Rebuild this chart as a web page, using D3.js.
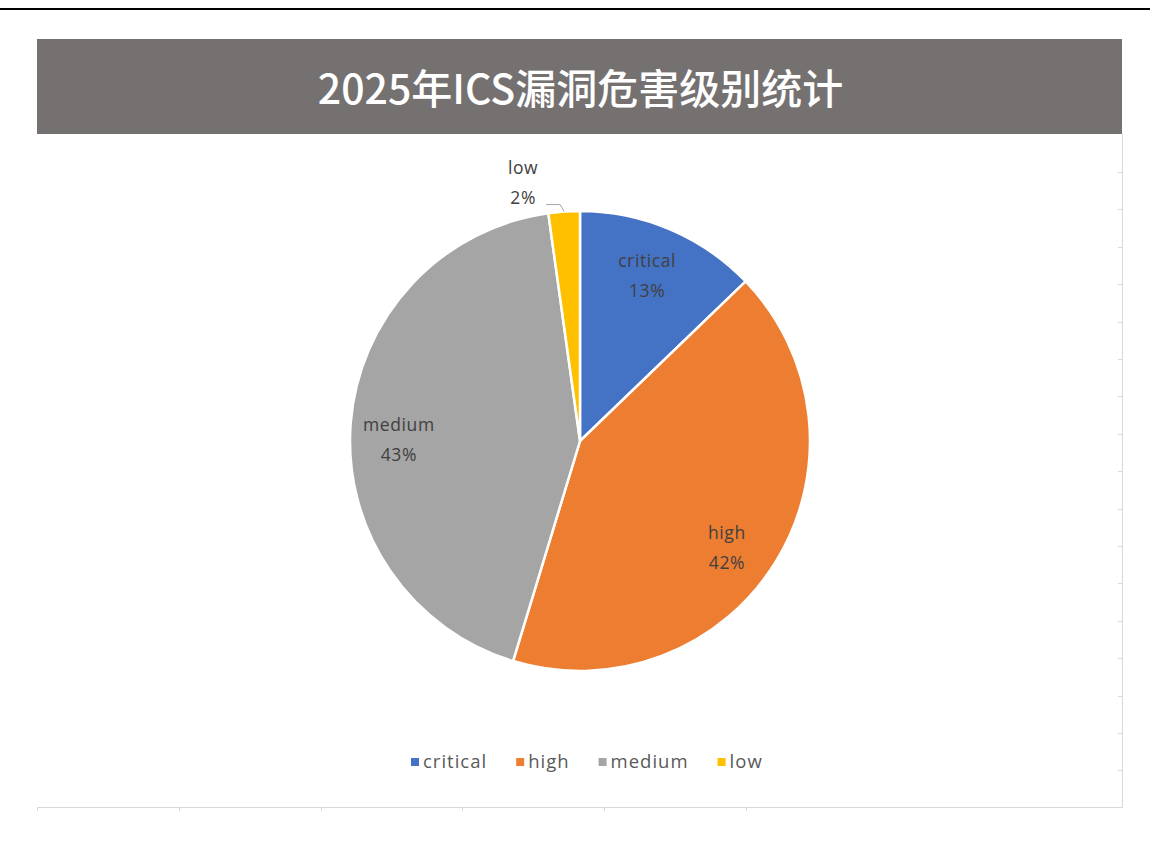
<!DOCTYPE html>
<html><head><meta charset="utf-8">
<script src="https://cdn.jsdelivr.net/npm/d3@7"></script>
<style>
html,body{margin:0;padding:0;background:#fff;}
svg{display:block;}
</style></head>
<body>
<svg id="chart" width="1150" height="847"></svg>
<script>
const title = "2025年ICS漏洞危害级别统计";
const categories = ["critical", "high", "medium", "low"];
const values = [12.8, 41.9, 43.1, 2.2];
const labels = ["13%", "42%", "43%", "2%"];
const colors = ["#4472C4", "#ED7D31", "#A5A5A5", "#FFC000"];

const svg = d3.select("#chart");
const W = 1150;
const cjk = "'Noto Sans CJK SC','Noto Sans',sans-serif";
const latin = "'Open Sans','Noto Sans',sans-serif";

// top black rule
svg.append("rect").attr("x",0).attr("y",8).attr("width",W).attr("height",2).attr("fill","#000");

// chart frame
const fx0 = 37, fx1 = 1122, fy0 = 39, fy1 = 807;
svg.append("rect").attr("x",fx0).attr("y",fy0).attr("width",fx1-fx0).attr("height",134-fy0).attr("fill","#767171");
svg.append("text").attr("x",(fx0+fx1)/2+1).attr("y",104).attr("text-anchor","middle")
  .attr("font-family",cjk).attr("font-size",41).attr("font-weight",500).attr("fill","#fff").text(title);

// faint frame lines with ticks
const frame = svg.append("g").attr("stroke","#d9d9d9").attr("stroke-width",1);
frame.append("line").attr("x1",fx1+0.5).attr("x2",fx1+0.5).attr("y1",134).attr("y2",fy1);
frame.append("line").attr("x1",fx0).attr("x2",fx1+1).attr("y1",fy1+0.5).attr("y2",fy1+0.5);
const yTicks = d3.range(172, fy1-20, 37.4);
frame.selectAll(".yt").data(yTicks).join("line").attr("x1",fx1-4).attr("x2",fx1).attr("y1",d=>Math.round(d)+0.5).attr("y2",d=>Math.round(d)+0.5);
const xTicks = d3.range(0, 6).map(i => fx0 + i*141.8);
frame.selectAll(".xt").data(xTicks).join("line").attr("x1",d=>Math.round(d)+0.5).attr("x2",d=>Math.round(d)+0.5).attr("y1",fy1).attr("y2",fy1+4);

// pie
const cx = 580, cy = 441, R = 230;
const pie = d3.pie().sort(null).value(d=>d.v);
const data = categories.map((c,i)=>({c, v:values[i], lab:labels[i], col:colors[i]}));
const arcs = pie(data);
const arc = d3.arc().innerRadius(0).outerRadius(R);
const g = svg.append("g").attr("transform",`translate(${cx},${cy})`);
g.selectAll("path").data(arcs).join("path").attr("d",arc).attr("fill",d=>d.data.col)
  .attr("stroke","#fff").attr("stroke-width",2.5).attr("stroke-linejoin","round");

// label placement (best-fit style nudges, in pixels)
const nudge = {critical:[-4,1], high:[-8,11], medium:[0,12]};
const labArc = d3.arc().innerRadius(R*0.79).outerRadius(R*0.79);
arcs.forEach(a=>{
  if (a.data.c === "low") return;
  let [x,y] = labArc.centroid(a);
  const n = nudge[a.data.c]; x += n[0]; y += n[1];
  const t = g.append("text").attr("text-anchor","middle").attr("font-family",latin).attr("font-size",17.5)
    .attr("letter-spacing",0.6).attr("fill","#404040");
  t.append("tspan").attr("x",x).attr("y",y-8).text(a.data.c);
  t.append("tspan").attr("x",x).attr("y",y+22).text(a.data.lab);
});
// low: outside label with leader
{
  const a = arcs[3];
  const mid = (a.startAngle+a.endAngle)/2;
  const px = R*Math.sin(mid), py = -R*Math.cos(mid);
  const ex = px - 4, ey = py - 7;
  const lx = ex - 14;
  g.append("polyline").attr("points",`${px},${py} ${ex},${ey} ${lx},${ey}`).attr("fill","none").attr("stroke","#a6a6a6").attr("stroke-width",1);
  const t = g.append("text").attr("text-anchor","middle").attr("font-family",latin).attr("font-size",17.5)
    .attr("letter-spacing",0.6).attr("fill","#404040");
  t.append("tspan").attr("x",lx-23).attr("y",ey-31).text(a.data.c);
  t.append("tspan").attr("x",lx-23).attr("y",ey-1).text(a.data.lab);
}

// legend
const leg = svg.append("g").attr("font-family",latin).attr("font-size",18.5).attr("fill","#595959");
let lx = 411;
data.forEach(d=>{
  leg.append("rect").attr("x",lx).attr("y",758).attr("width",8).attr("height",8).attr("fill",d.col);
  const t = leg.append("text").attr("x",lx+12).attr("y",768).attr("letter-spacing",1.0).text(d.c);
  const w = t.node().getComputedTextLength();
  lx += 12 + w + 29;
});
</script>
</body></html>
